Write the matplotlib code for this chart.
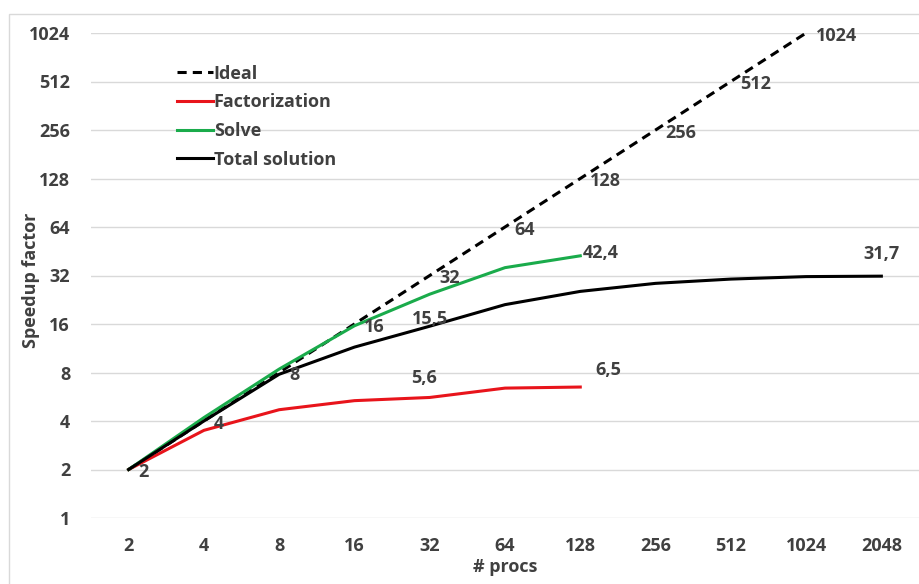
import matplotlib.pyplot as plt
from matplotlib.patches import Rectangle

# processor counts (categorical x axis)
procs = ["2", "4", "8", "16", "32", "64", "128", "256", "512", "1024", "2048"]

ideal = [2, 4, 8, 16, 32, 64, 128, 256, 512, 1024]
factorization = [2, 3.5, 4.7, 5.35, 5.6, 6.4, 6.5]
solve = [2, 4.2, 8.4, 15.6, 24.5, 35.8, 42.4]
total = [2, 4.0, 7.8, 11.5, 15.5, 21.1, 25.5, 28.6, 30.4, 31.5, 31.7]

yticks = [1, 2, 4, 8, 16, 32, 64, 128, 256, 512, 1024]

TXT = "#404040"
FS = 13
plt.rcParams["font.family"] = ["Open Sans", "DejaVu Sans"]
plt.rcParams["font.weight"] = "bold"

fig = plt.figure(figsize=(9.2, 5.84), dpi=100)
fig.patches.append(Rectangle((9 / 920, -0.1), 1.2, 1 - 14 / 584 + 0.1,
                             transform=fig.transFigure, fill=False,
                             edgecolor="#d9d9d9", linewidth=1))
ax = fig.add_axes([91 / 920, 1 - 518 / 584, 828 / 920, (518 - 33) / 584])

x = list(range(len(procs)))
ax.plot(x[:len(ideal)], ideal, color="black", lw=2.2, ls=(0, (3, 2)), label="Ideal")
ax.plot(x[:len(factorization)], factorization, color="#e8141b", lw=2.2, label="Factorization")
ax.plot(x[:len(solve)], solve, color="#1aab4b", lw=2.2, label="Solve")
ax.plot(x[:len(total)], total, color="black", lw=2.2, label="Total solution")

ax.set_yscale("log", base=2)
ax.set_ylim(1, 1024)
ax.set_xlim(-0.5, len(procs) - 0.5)
ax.set_yticks(yticks)
ax.set_yticklabels([str(v) for v in yticks])
ax.set_xticks(x)
ax.set_xticklabels(procs)
ax.minorticks_off()
ax.tick_params(length=0, labelsize=FS, labelcolor=TXT, pad=14)
ax.tick_params(axis="y", pad=15)
for lbl in ax.get_xticklabels() + ax.get_yticklabels():
    lbl.set_fontweight("bold")
for s in ax.spines.values():
    s.set_visible(False)
ax.grid(axis="y", color="#d9d9d9", lw=1)
ax.set_axisbelow(True)

ax.set_xlabel("# procs", fontsize=FS, color=TXT, fontweight="bold")
ax.xaxis.set_label_coords(0.5, -0.083)
ax.set_ylabel("Speedup factor", fontsize=FS, color=TXT, fontweight="bold")
ax.yaxis.set_label_coords(-0.062, 0.49)

lab = dict(fontsize=FS, color=TXT, fontweight="bold", va="center")
for i, v in enumerate(ideal):
    ax.annotate(str(v), (x[i], v), xytext=(7, -2), textcoords="offset points", ha="left", **lab)
ax.annotate("15,5", (x[4], total[4]), xytext=(0, 5), textcoords="offset points", ha="center", **lab)
ax.annotate("5,6", (x[4], factorization[4]), xytext=(-4, 14), textcoords="offset points", ha="center", **lab)
ax.annotate("6,5", (x[6], factorization[6]), xytext=(20, 12), textcoords="offset points", ha="center", **lab)
ax.annotate("42,4", (x[6], solve[6]), xytext=(2, 2), textcoords="offset points", ha="left", **lab)
ax.annotate("31,7", (x[10], total[10]), xytext=(0, 16), textcoords="offset points", ha="center", **lab)

leg = ax.legend(loc="upper left", bbox_to_anchor=(0.084, 0.968), frameon=False,
                prop={"size": FS, "weight": "bold"}, handlelength=2.0,
                handletextpad=0.05, labelspacing=0.59)
for t in leg.get_texts():
    t.set_color(TXT)

fig.savefig("out.png", dpi=100)
